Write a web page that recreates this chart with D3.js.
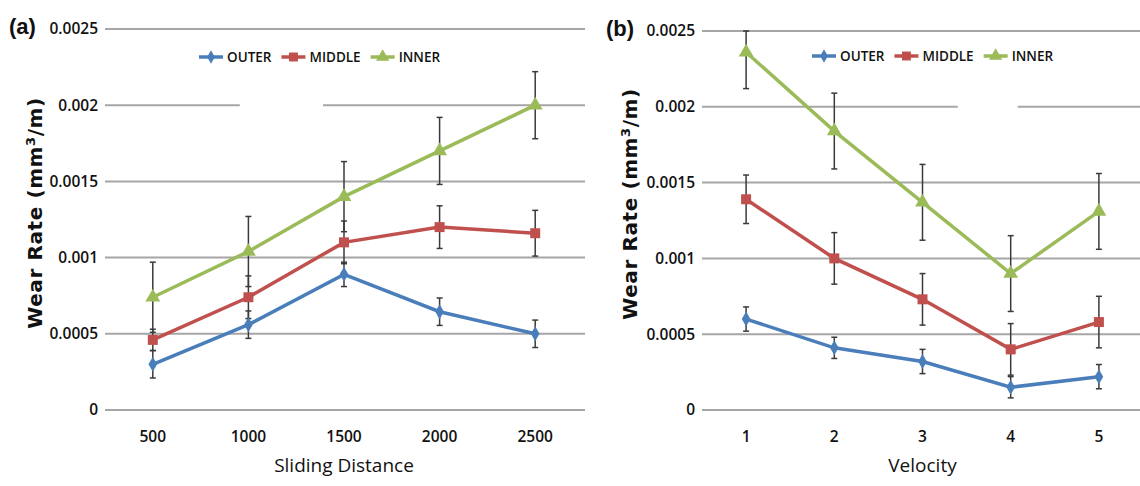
<!DOCTYPE html>
<html>
<head>
<meta charset="utf-8">
<script src="https://cdn.jsdelivr.net/npm/d3@7"></script>
<style>
  body { margin: 0; background: #fff; }
  svg text { fill: #111; }
  .tick-label { font-family: "Open Sans", sans-serif; font-weight: 600; font-size: 15.5px; }
  .legend-label { font-family: "Open Sans", sans-serif; font-weight: 600; font-size: 13.5px; }
  .axis-title { font-family: "Open Sans", sans-serif; font-size: 19px; }
  .y-title { font-family: "DejaVu Sans", sans-serif; font-weight: bold; font-size: 20px; letter-spacing: 0.6px; }
  .panel-label { font-family: "Liberation Sans", Arial, sans-serif; font-weight: bold; font-size: 22px; }
</style>
</head>
<body>
<svg id="chart" width="1140" height="486"></svg>
<script>
// series names
var seriesNames = ['OUTER', 'MIDDLE', 'INNER'];
var yTicks = [0, 0.0005, 0.001, 0.0015, 0.002, 0.0025];
var yTickLabels = ['0', '0.0005', '0.001', '0.0015', '0.002', '0.0025'];

// (a) wear rate vs sliding distance
var distance = ['500', '1000', '1500', '2000', '2500'];
var distOuter  = [0.00030, 0.00056, 0.00089, 0.000645, 0.00050];
var distMiddle = [0.00046, 0.00074, 0.00110, 0.00120, 0.00116];
var distInner  = [0.00074, 0.00104, 0.00140, 0.00170, 0.00200];
var distOuterErr  = [0.00009, 0.00009, 0.00008, 0.00009, 0.00009];
var distMiddleErr = [0.00007, 0.00014, 0.00014, 0.00014, 0.00015];
var distInnerErr  = [0.00023, 0.00023, 0.00023, 0.00022, 0.00022];

// (b) wear rate vs velocity
var velocity = ['1', '2', '3', '4', '5'];
var velOuter  = [0.00060, 0.00041, 0.00032, 0.00015, 0.00022];
var velMiddle = [0.00139, 0.00100, 0.00073, 0.00040, 0.00058];
var velInner  = [0.00236, 0.00184, 0.00137, 0.00090, 0.00131];
var velOuterErr  = [0.00008, 0.00007, 0.00008, 0.00007, 0.00008];
var velMiddleErr = [0.00016, 0.00017, 0.00017, 0.00017, 0.00017];
var velInnerErr  = [0.00024, 0.00025, 0.00025, 0.00025, 0.00025];

var colors = ['#4a7ebb', '#c0504d', '#9bbb59'];
var symbols = [d3.symbolDiamond, d3.symbolSquare, d3.symbolTriangle];
var symbolSizes = [65, 100, 95];

var svg = d3.select('#chart');

function drawPanel(opt) {
  var g = svg.append('g');

  var x = d3.scaleBand()
    .domain(opt.categories)
    .range([opt.left, opt.right]);

  var y = d3.scaleLinear()
    .domain([0, 0.0025])
    .range([opt.bottom, opt.top]);

  // band index scale, used for the gap in one grid line
  var xi = d3.scaleLinear().domain([0, opt.categories.length]).range([opt.left, opt.right]);

  // grid lines
  yTicks.forEach(function(t, i) {
    var segs = [[opt.left, opt.gridRight]];
    if (t === opt.gap.value) {
      segs = [[opt.left, xi(opt.gap.from)], [xi(opt.gap.to), opt.gridRight]];
    }
    segs.forEach(function(s) {
      g.append('line')
        .attr('x1', s[0]).attr('x2', s[1])
        .attr('y1', y(t)).attr('y2', y(t))
        .attr('stroke', '#a6a6a6')
        .attr('stroke-width', 2);
    });
    g.append('text')
      .attr('class', 'tick-label')
      .attr('x', opt.left - 7)
      .attr('y', y(t))
      .attr('dy', '0.35em')
      .attr('text-anchor', 'end')
      .text(yTickLabels[i]);
  });

  // x tick labels
  g.selectAll('.x-label')
    .data(opt.categories)
    .enter().append('text')
    .attr('class', 'tick-label')
    .attr('x', function(d) { return x(d) + x.bandwidth() / 2; })
    .attr('y', opt.bottom + 27)
    .attr('dy', '0.35em')
    .attr('text-anchor', 'middle')
    .text(function(d) { return d; });

  var cx = function(d, i) { return x(opt.categories[i]) + x.bandwidth() / 2; };

  // error bars first, lines and markers over them
  opt.series.forEach(function(s, k) {
    var eg = g.append('g');
    s.values.forEach(function(v, i) {
      var px = cx(v, i);
      var hi = Math.min(v + s.err[i], 0.0025), lo = Math.max(v - s.err[i], 0);
      eg.append('line')
        .attr('x1', px).attr('x2', px)
        .attr('y1', y(lo)).attr('y2', y(hi))
        .attr('stroke', '#3a3a3a').attr('stroke-width', 1.5);
      [lo, hi].forEach(function(e) {
        eg.append('line')
          .attr('x1', px - 3).attr('x2', px + 3)
          .attr('y1', y(e)).attr('y2', y(e))
          .attr('stroke', '#3a3a3a').attr('stroke-width', 1.5);
      });
    });
  });

  opt.series.forEach(function(s, k) {
    var line = d3.line()
      .x(function(d, i) { return cx(d, i); })
      .y(function(d) { return y(d); });

    g.append('path')
      .datum(s.values)
      .attr('fill', 'none')
      .attr('stroke', colors[k])
      .attr('stroke-width', 3.5)
      .attr('d', line);

    g.selectAll('.m' + k)
      .data(s.values)
      .enter().append('path')
      .attr('transform', function(d, i) { return 'translate(' + cx(d, i) + ',' + y(d) + ')'; })
      .attr('d', d3.symbol().type(symbols[k]).size(symbolSizes[k]))
      .attr('fill', colors[k]);
  });

  // legend
  var lg = g.append('g');
  var lx = opt.legendX;
  seriesNames.forEach(function(name, k) {
    lg.append('line')
      .attr('x1', lx).attr('x2', lx + 24)
      .attr('y1', opt.legendY).attr('y2', opt.legendY)
      .attr('stroke', colors[k]).attr('stroke-width', 3.5);
    lg.append('path')
      .attr('transform', 'translate(' + (lx + 12) + ',' + opt.legendY + ')')
      .attr('d', d3.symbol().type(symbols[k]).size(symbolSizes[k] * 0.8))
      .attr('fill', colors[k]);
    var t = lg.append('text')
      .attr('class', 'legend-label')
      .attr('x', lx + 28)
      .attr('y', opt.legendY)
      .attr('dy', '0.36em')
      .text(name);
    lx += 28 + t.node().getComputedTextLength() + 10;
  });

  // axis titles
  g.append('text')
    .attr('class', 'axis-title')
    .attr('x', (opt.left + opt.right) / 2)
    .attr('y', opt.bottom + 62)
    .attr('text-anchor', 'middle')
    .text(opt.xTitle);

  var yt = g.append('text')
    .attr('class', 'y-title')
    .attr('transform', 'translate(' + opt.yTitleX + ',' + opt.yTitleY + ') rotate(-90)')
    .attr('text-anchor', 'middle');
  yt.append('tspan').text('Wear Rate (mm');
  yt.append('tspan').attr('dy', -7).attr('font-size', '13px').text('3');
  yt.append('tspan').attr('dy', 7).text('/m)');

  g.append('text')
    .attr('class', 'panel-label')
    .attr('x', opt.labelX)
    .attr('y', opt.labelY)
    .text(opt.label);
}

drawPanel({
  categories: distance,
  series: [
    { values: distOuter, err: distOuterErr },
    { values: distMiddle, err: distMiddleErr },
    { values: distInner, err: distInnerErr }
  ],
  left: 105, right: 583, gridRight: 585, top: 29, bottom: 410,
  gap: { value: 0.002, from: 1.41, to: 2.28 },
  legendX: 199, legendY: 57,
  xTitle: 'Sliding Distance',
  yTitleX: 42, yTitleY: 213,
  label: '(a)', labelX: 9, labelY: 34
});

drawPanel({
  categories: velocity,
  series: [
    { values: velOuter, err: velOuterErr },
    { values: velMiddle, err: velMiddleErr },
    { values: velInner, err: velInnerErr }
  ],
  left: 702, right: 1143, gridRight: 1140, top: 31, bottom: 410,
  gap: { value: 0.002, from: 2.9, to: 3.58 },
  legendX: 812, legendY: 56,
  xTitle: 'Velocity',
  yTitleX: 637, yTitleY: 204,
  label: '(b)', labelX: 606, labelY: 36
});
</script>
</body>
</html>
